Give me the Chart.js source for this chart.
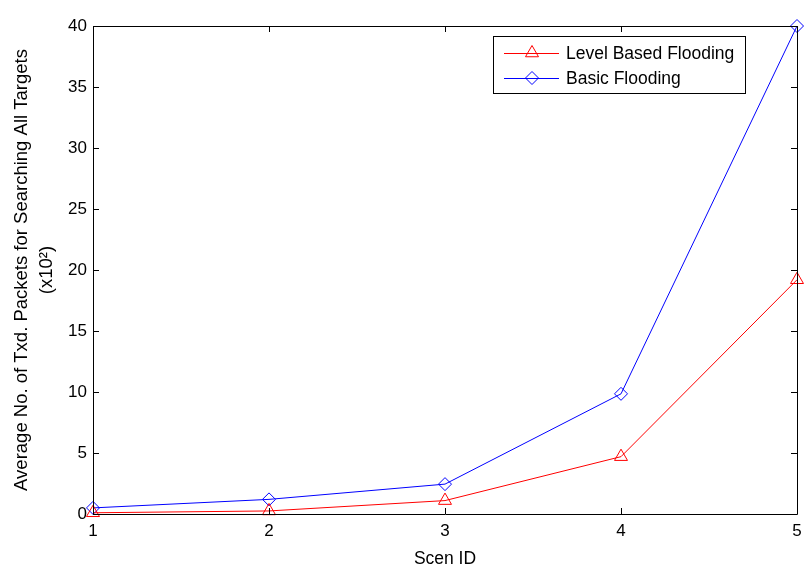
<!DOCTYPE html>
<html>
<head>
<meta charset="utf-8">
<script src="https://cdn.jsdelivr.net/npm/chart.js@4/dist/chart.umd.min.js"></script>
<style>
  html, body { margin: 0; padding: 0; background: #fff; }
  #wrap { width: 810px; height: 574px; }
</style>
</head>
<body>
<div id="wrap"><canvas id="chart"></canvas></div>
<script>
// data
const scenIds = [1, 2, 3, 4, 5];
const levelBased = [0.1, 0.25, 1.1, 4.7, 19.2];
const basicFlooding = [0.5, 1.2, 2.45, 9.85, 40];
const yTicks = [0, 5, 10, 15, 20, 25, 30, 35, 40];
const seriesNames = ['Level Based Flooding', 'Basic Flooding'];

const FONT = '"Liberation Sans", Arial, sans-serif';

// MATLAB style box with inward ticks on all four sides
const boxPlugin = {
  id: 'matlabBox',
  afterDatasetsDraw(chart) {
    const { ctx, chartArea: a, scales } = chart;
    const t = 6;
    ctx.save();
    ctx.strokeStyle = '#000';
    ctx.lineWidth = 1;
    ctx.beginPath();
    ctx.rect(Math.round(a.left) + 0.5, Math.round(a.top) + 0.5,
             Math.round(a.right - a.left), Math.round(a.bottom - a.top));
    scenIds.forEach(v => {
      const x = Math.round(scales.x.getPixelForValue(v)) + 0.5;
      ctx.moveTo(x, a.bottom); ctx.lineTo(x, a.bottom - t);
      ctx.moveTo(x, a.top); ctx.lineTo(x, a.top + t);
    });
    yTicks.forEach(v => {
      const y = Math.round(scales.y.getPixelForValue(v)) + 0.5;
      ctx.moveTo(a.left, y); ctx.lineTo(a.left + t, y);
      ctx.moveTo(a.right, y); ctx.lineTo(a.right - t, y);
    });
    ctx.stroke();
    ctx.restore();
  },
  afterDraw(chart) {
    // legend box, top right
    const { ctx } = chart;
    const bx = 493.5, by = 36.5, bw = 252, bh = 57;
    ctx.save();
    ctx.fillStyle = '#fff';
    ctx.fillRect(bx, by, bw, bh);
    ctx.strokeStyle = '#000';
    ctx.lineWidth = 1;
    ctx.strokeRect(bx, by, bw, bh);
    ctx.textBaseline = 'middle';
    chart.data.datasets.forEach((ds, i) => {
      const y = 53 + i * 25;
      ctx.strokeStyle = ds.borderColor;
      ctx.beginPath();
      ctx.moveTo(504, y + 0.5); ctx.lineTo(559, y + 0.5);
      ctx.stroke();
      ctx.fillStyle = 'rgba(0,0,0,0)';
      Chart.helpers.drawPoint(ctx, {
        pointStyle: ds.pointStyle, radius: ds.pointRadius, rotation: 0,
        borderWidth: 1
      }, 532, y);
      ctx.font = '17.5px ' + FONT;
      ctx.fillStyle = '#000';
      ctx.fillText(ds.label, 566, y + 1);
    });
    ctx.restore();
  }
};

new Chart(document.getElementById('chart'), {
  type: 'line',
  data: {
    datasets: [
      {
        label: seriesNames[0],
        data: scenIds.map((x, i) => ({ x: x, y: levelBased[i] })),
        borderColor: '#ff0000',
        borderWidth: 1,
        pointStyle: 'triangle',
        pointRadius: 7.5,
        pointBorderColor: '#ff0000',
        pointBackgroundColor: 'rgba(0,0,0,0)',
        pointBorderWidth: 1,
        tension: 0,
        clip: false
      },
      {
        label: seriesNames[1],
        data: scenIds.map((x, i) => ({ x: x, y: basicFlooding[i] })),
        borderColor: '#0000ff',
        borderWidth: 1,
        pointStyle: 'rectRot',
        pointRadius: 6.5,
        pointBorderColor: '#0000ff',
        pointBackgroundColor: 'rgba(0,0,0,0)',
        pointBorderWidth: 1,
        tension: 0,
        clip: false
      }
    ]
  },
  options: {
    responsive: true,
    maintainAspectRatio: false,
    animation: false,
    layout: { padding: { left: 0, top: 26, right: 13, bottom: 0 } },
    plugins: { legend: { display: false }, tooltip: { enabled: false } },
    scales: {
      x: {
        type: 'linear',
        min: 1, max: 5,
        afterBuildTicks: s => { s.ticks = scenIds.map(v => ({ value: v })); },
        afterFit: s => { s.height = 60; },
        grid: { display: false, drawTicks: false },
        border: { display: false },
        ticks: { color: '#000', font: { family: FONT, size: 17 }, padding: 7, maxRotation: 0 },
        title: { display: true, text: 'Scen ID', color: '#000',
                 font: { family: FONT, size: 17.5 }, padding: { top: 0, bottom: 4.5 } }
      },
      y: {
        type: 'linear',
        min: 0, max: 40,
        afterBuildTicks: s => { s.ticks = yTicks.map(v => ({ value: v })); },
        afterFit: s => { s.width = 93; },
        grid: { display: false, drawTicks: false },
        border: { display: false },
        ticks: { color: '#000', font: { family: FONT, size: 17 }, padding: 6 },
        title: { display: true,
                 text: ['Average No. of Txd. Packets for Searching All Targets', '(x10\u00b2)'],
                 color: '#000', font: { family: FONT, size: 18.5, lineHeight: 1.35 },
                 padding: { top: 9.5, bottom: 0 } }
      }
    }
  },
  plugins: [boxPlugin]
});
</script>
</body>
</html>
